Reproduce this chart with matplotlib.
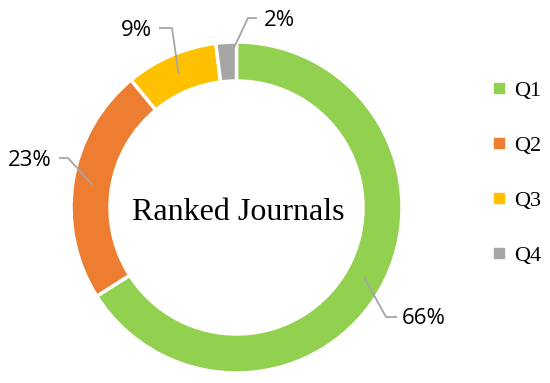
import numpy as np
import matplotlib.pyplot as plt
from matplotlib.lines import Line2D

# data
categories = ['Q1', 'Q2', 'Q3', 'Q4']
shares = [66, 23, 9, 2]
colors = ['#92D050', '#ED7D31', '#FFC000', '#A5A5A5']

W, H = 550, 383
fig = plt.figure(figsize=(W / 100, H / 100), dpi=100)
ax = fig.add_axes([0, 0, 1, 1])

cx, cy = 236.5, H - 207.5
R = 165.5
ring = 39

wedges, _ = ax.pie(shares, colors=colors, startangle=90, counterclock=False,
                   center=(cx, cy), radius=R, frame=True,
                   wedgeprops=dict(width=ring, edgecolor='white', linewidth=2.5))
ax.set_xlim(0, W)
ax.set_ylim(0, H)
ax.set_aspect('equal')
ax.axis('off')

# label layout: elbow point, line end, text position (pixels from top-left)
elbows = [(386, 317), (68, 158), (172, 28), (248, 18)]
ends = [(397, 317), (59, 158), (159, 28), (257, 18)]
text_pos = [(424, 318), (30, 161), (136, 31), (279, 20)]

rmid = R - ring / 2
for w, s, el, en, tp in zip(wedges, shares, elbows, ends, text_pos):
    ang = np.deg2rad((w.theta1 + w.theta2) / 2)
    x0 = cx + rmid * np.cos(ang)
    y0 = cy + rmid * np.sin(ang)
    ax.plot([x0, el[0], en[0]], [y0, H - el[1], H - en[1]],
            color='#A5A5A5', lw=1.3, solid_capstyle='butt')
    ax.text(tp[0], H - tp[1], f'{s}%', ha='center', va='center',
            fontsize=16, family='Open Sans', color='black')

ax.text(cx + 2, H - 213, 'Ranked Journals', ha='center', va='center',
        fontsize=23, family='Liberation Serif')

handles = [Line2D([], [], marker='s', ls='', markersize=7, color=c) for c in colors]
fig.legend(handles, categories, loc='center left', bbox_to_anchor=(480 / W, 1 - 173 / H),
           frameon=False, prop={'family': 'Liberation Serif', 'size': 16},
           labelspacing=1.55, handlelength=0.7, handletextpad=0.35, borderpad=0)

fig.savefig('out.png', dpi=100)
